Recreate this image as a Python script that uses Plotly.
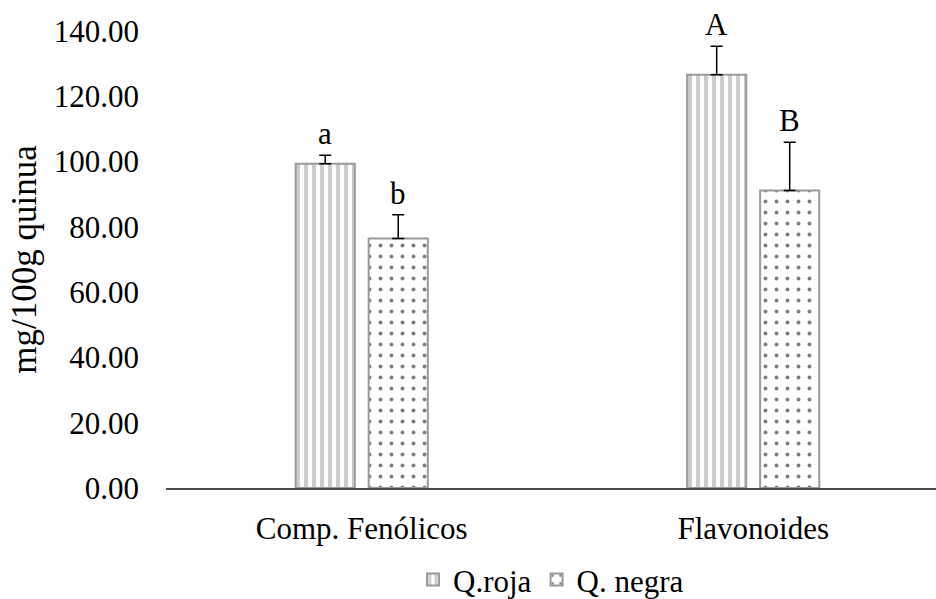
import plotly.graph_objects as go

# Contenido fenólico y de flavonoides en dos variedades de quinua
categorias = ["Comp. Fenólicos", "Flavonoides"]
q_roja = [99.3, 126.6]
q_roja_err = [2.6, 8.7]
q_negra = [76.4, 91.1]
q_negra_err = [7.3, 14.8]
letras_roja = ["a", "A"]
letras_negra = ["b", "B"]
ticks_y = [0, 20, 40, 60, 80, 100, 120, 140]

FONT = "Liberation Serif"
GRIS = "#9a9a9a"

fig = go.Figure()
fig.add_trace(go.Bar(
    name="Q.roja", x=categorias, y=q_roja,
    marker=dict(color="white",
                line=dict(color=GRIS, width=2),
                pattern=dict(shape="|", fgcolor=GRIS, bgcolor="white",
                             size=8, solidity=0.5, fillmode="overlay")),
    error_y=dict(type="data", array=q_roja_err, arrayminus=[0, 0],
                 symmetric=False, color="black", thickness=1.5, width=6),
))
fig.add_trace(go.Bar(
    name="Q. negra", x=categorias, y=q_negra,
    marker=dict(color="white",
                line=dict(color=GRIS, width=2),
                pattern=dict(shape=".", fgcolor="black", bgcolor="white",
                             size=11, solidity=0.1, fillmode="overlay")),
    error_y=dict(type="data", array=q_negra_err, arrayminus=[0, 0],
                 symmetric=False, color="black", thickness=1.5, width=6),
))

# Letras de significancia encima de cada barra de error
n = len(categorias)
slot = (1 - 0.627) / 2
for i in range(n):
    for vals, errs, letras, off in ((q_roja, q_roja_err, letras_roja, -slot / 2),
                                    (q_negra, q_negra_err, letras_negra, slot / 2)):
        fig.add_annotation(x=i + off, y=vals[i] + errs[i], text=letras[i],
                           showarrow=False, yanchor="bottom", yshift=2,
                           font=dict(family=FONT, size=31, color="black"))

fig.update_layout(
    width=936, height=599,
    margin=dict(l=166, r=0, t=31, b=111, autoexpand=False),
    paper_bgcolor="white", plot_bgcolor="white",
    barmode="group", bargap=0.627, bargroupgap=0.19,
    font=dict(family=FONT, size=31, color="black"),
    showlegend=True,
    legend=dict(orientation="h", x=0.5, xanchor="center", y=-0.201, yanchor="middle",
                font=dict(family=FONT, size=31, color="black"),
                bgcolor="rgba(0,0,0,0)"),
    xaxis=dict(type="category", range=[-0.5, 1.467],
               showline=True, linecolor="#4d4d4d", linewidth=1.5,
               showgrid=False, ticks="", ticklabelstandoff=12,
               tickfont=dict(family=FONT, size=31, color="black")),
    yaxis=dict(range=[0, 140], tickvals=ticks_y,
               ticktext=[f"{v:.2f}" for v in ticks_y],
               showline=False, showgrid=False, zeroline=False, ticks="",
               ticklabelstandoff=26,
               tickfont=dict(family=FONT, size=31, color="black"),
               title=dict(text="mg/100g quinua", standoff=6,
                          font=dict(family=FONT, size=35, color="black"))),
)

fig.write_html("out.html")
